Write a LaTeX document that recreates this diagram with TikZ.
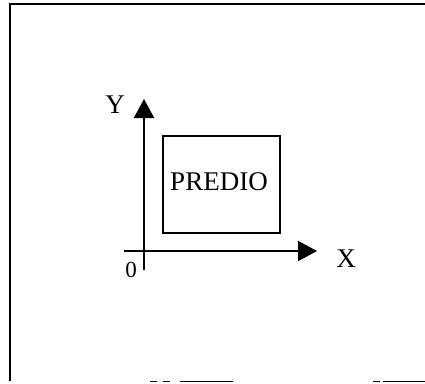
\documentclass[tikz,border=0pt]{standalone}
\usepackage{fontspec}
\setmainfont{Liberation Serif}
\usetikzlibrary{arrows.meta}
\tikzset{
  frameline/.style={line width=2pt, black},
  axisline/.style={line width=2pt, black, -{Triangle[length=19pt,width=20pt]}},
  predio/.style={draw, line width=2pt, fill=white, inner sep=0pt},
  lbl/.style={inner sep=0pt, anchor=base, font=\fontsize{27}{30}\selectfont},
  lblsmall/.style={inner sep=0pt, anchor=base, font=\fontsize{23}{26}\selectfont}
}
\begin{document}
\begin{tikzpicture}[x=1pt,y=-1pt]
\useasboundingbox (0,0) rectangle (425,383);
\fill[white] (0,0) rectangle (425,383);
% frame
\coordinate (ftl) at (9.5,3.5);
\coordinate (ftr) at (425,3.5);
\coordinate (fbl) at (9.5,381);
\draw[frameline] (ftr) -- (ftl) -- (fbl);
\draw[line width=1pt] (150,381.5) -- (157,381.5);
\draw[line width=1pt] (163,381.5) -- (170,381.5);
\draw[line width=1.3pt] (180,381.5) -- (233,381.5);
\draw[line width=1pt] (373,381.5) -- (380,381.5);
\draw[line width=1.3pt] (383,381.5) -- (425,381.5);
% box
\node[predio, minimum width=117pt, minimum height=97pt] (box) at (221.5,184.5) {};
\node[lbl] (ptext) at (219,190) {PREDIO};
% axes
\coordinate (ybot) at (144,270);
\coordinate (ytop) at (144,99);
\coordinate (xl) at (124,251);
\coordinate (xr) at (317,251);
\draw[axisline] (ybot) -- (ytop);
\draw[axisline] (xl) -- (xr);
% labels
\node[lbl] (ylab) at (115,113) {Y};
\node[lbl] (xlab) at (346,267) {X};
\node[lblsmall] (olab) at (131,277) {0};
\end{tikzpicture}
\end{document}
